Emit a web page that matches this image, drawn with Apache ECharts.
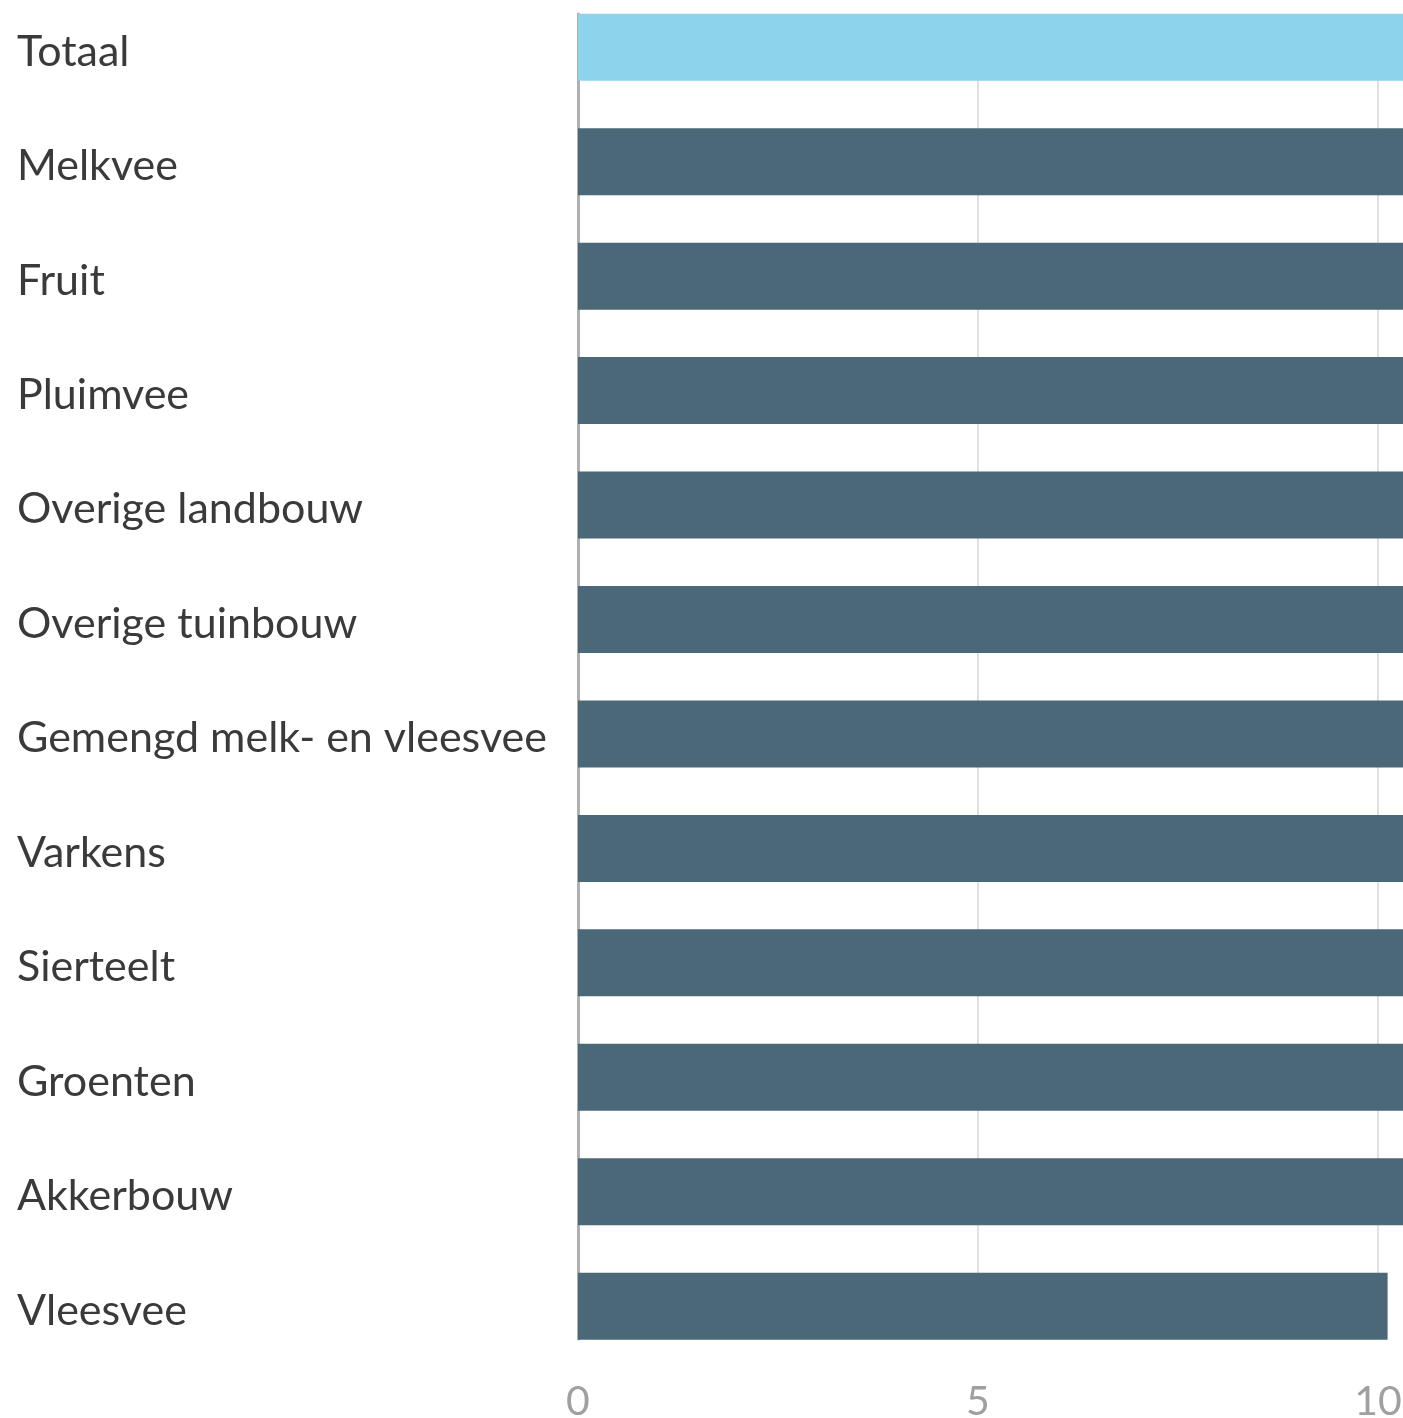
<!DOCTYPE html>
<html>
<head>
<meta charset="utf-8">
<script src="https://cdn.jsdelivr.net/npm/echarts@6/dist/echarts.min.js"></script>
<style>
  html, body { margin: 0; padding: 0; background: #fff; overflow: hidden; width: 1403px; height: 1418px; }
  /* chart is a bit bigger than the window: the reference is cropped at the top and right */
  #chart { position: absolute; left: 0; top: -10px; width: 1778px; height: 1428px; }
</style>
</head>
<body>
<div id="chart"></div>
<script>
var categories = ['Totaal', 'Melkvee', 'Fruit', 'Pluimvee', 'Overige landbouw', 'Overige tuinbouw',
  'Gemengd melk- en vleesvee', 'Varkens', 'Sierteelt', 'Groenten', 'Akkerbouw', 'Vleesvee'];
// values past ~10.3 run off the picture, so those are estimates
var values = [12.0, 14.6, 13.9, 13.2, 12.8, 12.4, 11.9, 11.5, 11.2, 10.9, 10.6, 10.12];
var xTicks = [0, 5, 10];

var myChart = echarts.init(document.getElementById('chart'));

var option = {
  animation: false,
  grid: [
    { left: 578, right: 0, top: 0, bottom: 54.6, outerBoundsMode: 'none' },
    { left: 578, right: 0, top: 24, bottom: 79, outerBoundsMode: 'none' }   // only for the grid lines
  ],
  xAxis: [
    {
      type: 'value', gridIndex: 0, min: 0, max: 15, interval: 5,
      axisLine: { show: false }, axisTick: { show: false }, splitLine: { show: false },
      axisLabel: {
        color: '#a0a0a0', fontFamily: 'Lato', fontSize: 41, margin: 18,
        formatter: function (v) { return xTicks.indexOf(v) >= 0 ? String(v) : ''; }
      }
    },
    {
      type: 'value', gridIndex: 1, min: 0, max: 15, interval: 5,
      axisLine: { show: false }, axisTick: { show: false }, axisLabel: { show: false },
      splitLine: { show: true, lineStyle: { color: '#e0e0e0', width: 2 } }
    }
  ],
  yAxis: [
    {
      type: 'category', gridIndex: 0, inverse: true, data: categories,
      axisLine: { show: false }, axisTick: { show: false }, splitLine: { show: false },
      axisLabel: {
        align: 'left', margin: 561, color: '#3a3a3a', fontFamily: 'Lato', fontSize: 43,
        formatter: function (v) { return '{n|' + v + '}'; },
        rich: {
          // a little top padding pushes the names a few px lower, as in the reference
          n: { color: '#3a3a3a', fontFamily: 'Lato', fontSize: 43, padding: [9, 0, 0, 0] }
        }
      }
    },
    {
      type: 'value', gridIndex: 1, min: 0, max: 1,
      axisLine: { show: true, onZero: false, lineStyle: { color: '#b0b0b0', width: 3 } },
      axisTick: { show: false }, axisLabel: { show: false }, splitLine: { show: false }
    }
  ],
  series: [
    {
      type: 'bar', xAxisIndex: 0, yAxisIndex: 0,
      barWidth: 67,
      data: values.map(function (v, i) {
        return { value: v, itemStyle: { color: i === 0 ? '#8dd3ec' : '#4a6878' } };
      })
    }
  ]
};

myChart.setOption(option);

window.addEventListener('resize', function () { myChart.resize(); });
</script>
</body>
</html>
